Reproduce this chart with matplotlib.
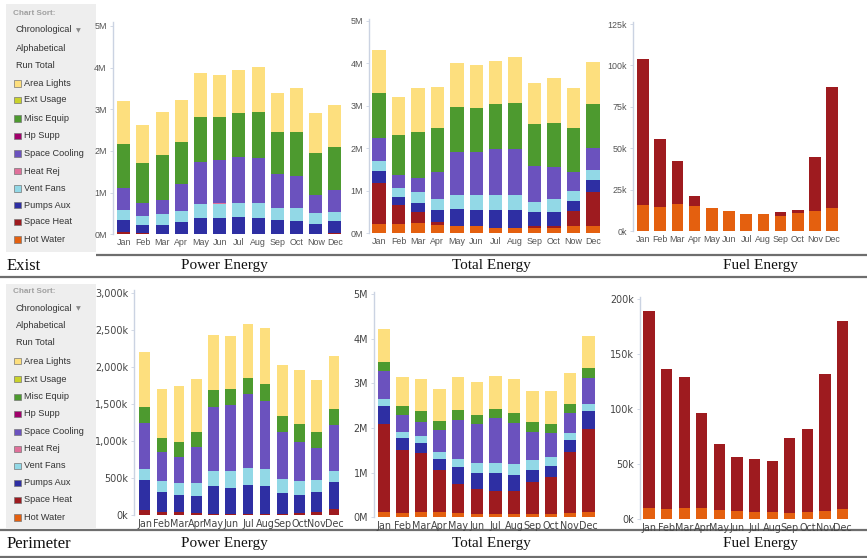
import matplotlib
matplotlib.use("Agg")
import matplotlib.pyplot as plt
from matplotlib.ticker import FixedLocator, FixedFormatter

W, H = 867, 558
DPI = 100

months = ["Jan", "Feb", "Mar", "Apr", "May", "Jun", "Jul", "Aug", "Sep", "Oct", "Nov", "Dec"]
months_alt = ["Jan", "Feb", "Mar", "Apr", "May", "Jun", "Jul", "Aug", "Sep", "Oct", "Now", "Dec"]

legend_items = ["Area Lights", "Ext Usage", "Misc Equip", "Hp Supp", "Space Cooling",
                "Heat Rej", "Vent Fans", "Pumps Aux", "Space Heat", "Hot Water"]
colors = {
    "Area Lights": "#FDDF7E",
    "Ext Usage": "#C9D22B",
    "Misc Equip": "#4D9A2F",
    "Hp Supp": "#A1006B",
    "Space Cooling": "#6B52BE",
    "Heat Rej": "#E0709A",
    "Vent Fans": "#92D8E6",
    "Pumps Aux": "#2E2FA3",
    "Space Heat": "#9E1B1F",
    "Hot Water": "#E4600F",
}

# ---- Exist: Power Energy (M) ----
exist_power_space_heat = [0.05, 0.02, 0, 0, 0, 0, 0, 0, 0, 0, 0, 0.02]
exist_power_pumps_aux = [0.29, 0.20, 0.22, 0.29, 0.40, 0.40, 0.42, 0.40, 0.34, 0.33, 0.25, 0.31]
exist_power_vent_fans = [0.24, 0.23, 0.27, 0.27, 0.32, 0.32, 0.32, 0.34, 0.28, 0.29, 0.25, 0.21]
exist_power_heat_rej = [0, 0, 0, 0, 0, 0.02, 0.02, 0.02, 0, 0, 0, 0]
exist_power_cooling = [0.54, 0.29, 0.33, 0.64, 1.01, 1.04, 1.10, 1.08, 0.82, 0.77, 0.44, 0.52]
exist_power_misc = [1.05, 0.96, 1.08, 1.02, 1.09, 1.04, 1.04, 1.09, 1.02, 1.07, 1.02, 1.04]
exist_power_lights = [1.03, 0.92, 1.04, 1.00, 1.06, 1.01, 1.05, 1.08, 0.94, 1.04, 0.96, 0.99]

# ---- Exist: Total Energy (M) ----
exist_total_hot_water = [0.21, 0.21, 0.24, 0.20, 0.17, 0.16, 0.13, 0.13, 0.12, 0.13, 0.17, 0.17]
exist_total_space_heat = [0.98, 0.46, 0.25, 0.07, 0, 0, 0, 0, 0.04, 0.04, 0.36, 0.81]
exist_total_pumps_aux = [0.28, 0.19, 0.22, 0.28, 0.40, 0.39, 0.42, 0.42, 0.33, 0.32, 0.23, 0.27]
exist_total_vent_fans = [0.24, 0.21, 0.25, 0.26, 0.33, 0.34, 0.35, 0.35, 0.25, 0.31, 0.24, 0.24]
exist_total_cooling = [0.54, 0.30, 0.35, 0.62, 1.00, 1.03, 1.08, 1.07, 0.85, 0.75, 0.43, 0.52]
exist_total_misc = [1.04, 0.94, 1.06, 1.04, 1.06, 1.03, 1.05, 1.09, 0.97, 1.05, 1.04, 1.03]
exist_total_lights = [1.02, 0.90, 1.04, 0.98, 1.05, 1.00, 1.03, 1.08, 0.97, 1.04, 0.94, 0.98]

# ---- Exist: Fuel Energy (k) ----
exist_fuel_hot_water = [15.7, 14.7, 16.3, 15.1, 14.1, 12.1, 10.5, 10.5, 9.3, 11.1, 12.1, 13.7]
exist_fuel_space_heat = [88.0, 40.9, 26.2, 6.2, 0, 0, 0, 0, 2.0, 1.4, 32.6, 73.1]

# ---- Perimeter: Power Energy (k) ----
perim_power_space_heat = [72, 50, 45, 27, 18, 13, 13, 13, 18, 27, 50, 81]
perim_power_pumps_aux = [400, 260, 229, 234, 373, 355, 400, 378, 287, 247, 264, 364]
perim_power_vent_fans = [148, 148, 166, 179, 206, 234, 229, 233, 185, 184, 162, 152]
perim_power_cooling = [620, 391, 346, 476, 867, 885, 989, 917, 637, 535, 436, 620]
perim_power_misc = [220, 193, 202, 207, 225, 220, 224, 224, 216, 233, 211, 211]
perim_power_lights = [737, 656, 755, 714, 737, 705, 719, 755, 687, 732, 705, 724]

# ---- Perimeter: Total Energy (M) ----
perim_total_hot_water = [0.11, 0.09, 0.11, 0.11, 0.09, 0.07, 0.07, 0.07, 0.07, 0.07, 0.09, 0.11]
perim_total_space_heat = [1.98, 1.42, 1.32, 0.95, 0.65, 0.56, 0.52, 0.52, 0.73, 0.83, 1.37, 1.87]
perim_total_pumps_aux = [0.40, 0.26, 0.23, 0.24, 0.38, 0.36, 0.41, 0.36, 0.27, 0.25, 0.27, 0.39]
perim_total_vent_fans = [0.15, 0.13, 0.17, 0.16, 0.19, 0.23, 0.22, 0.24, 0.21, 0.19, 0.15, 0.16]
perim_total_cooling = [0.63, 0.39, 0.31, 0.50, 0.87, 0.87, 1.00, 0.93, 0.62, 0.54, 0.45, 0.60]
perim_total_misc = [0.21, 0.21, 0.23, 0.19, 0.22, 0.21, 0.21, 0.21, 0.23, 0.21, 0.20, 0.22]
perim_total_lights = [0.73, 0.65, 0.73, 0.72, 0.75, 0.72, 0.73, 0.76, 0.70, 0.74, 0.71, 0.72]

# ---- Perimeter: Fuel Energy (k) ----
perim_fuel_hot_water = [10.0, 9.4, 10.6, 10.0, 8.5, 7.9, 7.0, 7.0, 5.4, 7.0, 7.9, 9.0]
perim_fuel_space_heat = [179.4, 127.1, 118.9, 86.8, 59.6, 49.0, 47.8, 46.3, 68.1, 75.0, 124.0, 171.0]

exist_power = [("Space Heat", exist_power_space_heat), ("Pumps Aux", exist_power_pumps_aux),
               ("Vent Fans", exist_power_vent_fans), ("Heat Rej", exist_power_heat_rej),
               ("Space Cooling", exist_power_cooling), ("Misc Equip", exist_power_misc),
               ("Area Lights", exist_power_lights)]
exist_total = [("Hot Water", exist_total_hot_water), ("Space Heat", exist_total_space_heat),
               ("Pumps Aux", exist_total_pumps_aux), ("Vent Fans", exist_total_vent_fans),
               ("Space Cooling", exist_total_cooling), ("Misc Equip", exist_total_misc),
               ("Area Lights", exist_total_lights)]
exist_fuel = [("Hot Water", exist_fuel_hot_water), ("Space Heat", exist_fuel_space_heat)]
perim_power = [("Space Heat", perim_power_space_heat), ("Pumps Aux", perim_power_pumps_aux),
               ("Vent Fans", perim_power_vent_fans), ("Space Cooling", perim_power_cooling),
               ("Misc Equip", perim_power_misc), ("Area Lights", perim_power_lights)]
perim_total = [("Hot Water", perim_total_hot_water), ("Space Heat", perim_total_space_heat),
               ("Pumps Aux", perim_total_pumps_aux), ("Vent Fans", perim_total_vent_fans),
               ("Space Cooling", perim_total_cooling), ("Misc Equip", perim_total_misc),
               ("Area Lights", perim_total_lights)]
perim_fuel = [("Hot Water", perim_fuel_hot_water), ("Space Heat", perim_fuel_space_heat)]

fig = plt.figure(figsize=(W / DPI, H / DPI), dpi=DPI)
fig.patch.set_facecolor("white")

# overlay in pixel coordinates for panels, separators and captions
ov = fig.add_axes([0, 0, 1, 1])
ov.set_xlim(0, W)
ov.set_ylim(H, 0)
ov.axis("off")

SANS = "Liberation Sans"
SERIF = "Liberation Serif"
LEG_FS = 6.6


def legend_panel(top, bottom, ys):
    ov.add_patch(plt.Rectangle((6, top), 90, bottom - top, facecolor="#EEEEEE",
                               edgecolor="none", zorder=0))
    ov.text(13, ys[0], "Chart Sort:", fontsize=5.9, color="#A0A0A0", family=SANS,
            fontweight="bold", va="center", ha="left")
    ov.text(16, ys[1], "Chronological", fontsize=LEG_FS, color="#333333", family=SANS,
            va="center", ha="left")
    ov.text(76, ys[1] + 0.3, "\u25BC", fontsize=4.5, color="#888888", family="DejaVu Sans",
            va="center", ha="left")
    ov.text(16, ys[2], "Alphabetical", fontsize=LEG_FS, color="#333333", family=SANS,
            va="center", ha="left")
    ov.text(16, ys[3], "Run Total", fontsize=LEG_FS, color="#333333", family=SANS,
            va="center", ha="left")
    for name, y in zip(legend_items, ys[4:]):
        ov.add_patch(plt.Rectangle((14, y - 3.2), 6.5, 6.5, facecolor=colors[name],
                                   edgecolor="#777777", linewidth=0.5, zorder=2))
        ov.text(24, y, name, fontsize=LEG_FS, color="#333333", family=SANS,
                va="center", ha="left")


legend_panel(4, 252, [13.3, 30, 48.3, 65, 83.3, 100, 118.3, 136, 153.3, 171,
                      188.3, 205, 221.7, 239.3])
legend_panel(284, 528, [291.7, 308.3, 325.7, 342.7, 361, 379, 396.7, 414, 431.7,
                        448.7, 465.7, 482.7, 500, 517.3])

# separators and row captions
for (x0, y) in [(96, 254.5), (0, 276.7), (0, 530), (0, 556.5)]:
    ov.plot([x0, W], [y, y], color="#6E6E6E", linewidth=1.6, solid_capstyle="butt")

for y, row in [(266, "Exist"), (544, "Perimeter")]:
    ov.text(7, y, row, fontsize=12, family=SERIF, color="#111111", va="center", ha="left")
    for cx, t in [(224, "Power Energy"), (491, "Total Energy"), (760, "Fuel Energy")]:
        ov.text(cx, y, t, fontsize=11, family=SERIF, color="#111111", va="center", ha="center")


def bar_chart(series, spine_x, right_x, top_y, zero_y, ymax, cx0, step, width,
              ticks, tick_labels, xlabels, fsize, tcolor, tfamily):
    ax = fig.add_axes([spine_x / W, 1 - zero_y / H, (right_x - spine_x) / W,
                       (zero_y - top_y) / H])
    ax.set_facecolor("none")
    x = list(range(len(months)))
    bottom = [0.0] * len(months)
    for name, vals in series:
        ax.bar(x, vals, width=width, bottom=bottom, color=colors[name],
               edgecolor="none", linewidth=0, zorder=2)
        bottom = [b + v for b, v in zip(bottom, vals)]
    ax.set_xlim((spine_x - cx0) / step, (right_x - cx0) / step)
    ax.set_ylim(0, ymax)
    for s in ["top", "right", "bottom"]:
        ax.spines[s].set_visible(False)
    ax.spines["left"].set_color("#CBD3E2")
    ax.spines["left"].set_linewidth(1.0)
    ax.yaxis.set_major_locator(FixedLocator(ticks))
    ax.yaxis.set_major_formatter(FixedFormatter(tick_labels))
    ax.tick_params(axis="y", length=2.5, width=0.6, color="#CBD3E2", pad=2,
                   labelsize=fsize, labelcolor=tcolor)
    ax.set_xticks(x)
    ax.set_xticklabels(xlabels)
    ax.tick_params(axis="x", length=0, pad=3, labelsize=fsize, labelcolor=tcolor)
    for lab in ax.get_xticklabels() + ax.get_yticklabels():
        lab.set_family(tfamily)
    return ax


TOP_FS, TOP_C = 6.4, "#555555"
BOT_FS, BOT_C = 6.9, "#444444"

bar_chart(exist_power, 113, 345, 21.7, 234.3, 5.10, 123.7, 19.2, 0.68,
          [0, 1, 2, 3, 4, 5], ["0M", "1M", "2M", "3M", "4M", "5M"],
          months_alt, TOP_FS, TOP_C, SANS)
bar_chart(exist_total, 369.3, 603, 19.3, 233.3, 5.03, 379, 19.45, 0.69,
          [0, 1, 2, 3, 4, 5], ["0M", "1M", "2M", "3M", "4M", "5M"],
          months_alt, TOP_FS, TOP_C, SANS)
bar_chart(exist_fuel, 633.3, 845, 21.7, 231, 126.4, 643, 17.2, 0.67,
          [0, 25, 50, 75, 100, 125], ["0k", "25k", "50k", "75k", "100k", "125k"],
          months, TOP_FS, TOP_C, SANS)
bar_chart(perim_power, 134.3, 345, 290, 515.3, 3036, 144.7, 17.2, 0.62,
          [0, 500, 1000, 1500, 2000, 2500, 3000],
          ["0k", "500k", "1,000k", "1,500k", "2,000k", "2,500k", "3,000k"],
          months, BOT_FS, BOT_C, "DejaVu Sans")
bar_chart(perim_total, 374.3, 600, 292, 517.3, 5.045, 383.8, 18.6, 0.66,
          [0, 1, 2, 3, 4, 5], ["0M", "1M", "2M", "3M", "4M", "5M"],
          months, BOT_FS, BOT_C, "DejaVu Sans")
bar_chart(perim_fuel, 640, 855, 296.7, 519.3, 202.1, 649, 17.6, 0.63,
          [0, 50, 100, 150, 200], ["0k", "50k", "100k", "150k", "200k"],
          months, BOT_FS, BOT_C, "DejaVu Sans")

fig.savefig("out.png", dpi=DPI, facecolor="white")
